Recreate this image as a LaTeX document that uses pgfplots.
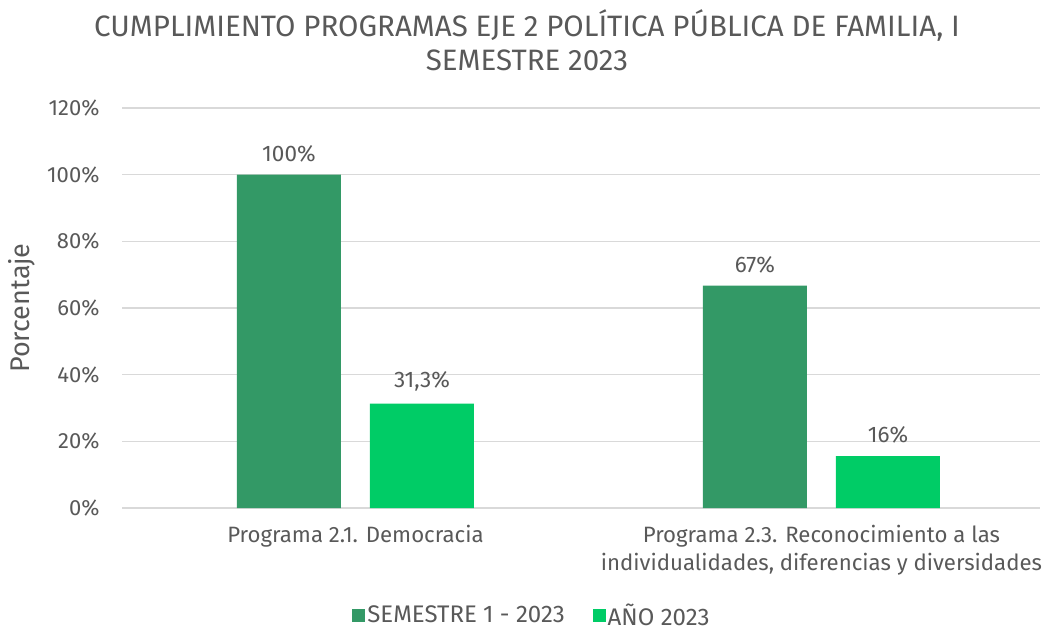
\documentclass[border=0pt]{standalone}
\usepackage{fontspec}
\setmainfont{Fira Sans}
\usepackage{pgfplots}
\pgfplotsset{compat=1.18}
\definecolor{dg}{HTML}{339966}
\definecolor{lg}{HTML}{00CC66}
\definecolor{tx}{HTML}{595959}
\definecolor{gr}{HTML}{D9D9D9}
\begin{document}
\begin{tikzpicture}[x=1pt,y=1pt]
\begin{axis}[
  at={(122pt,-508pt)}, anchor=south west, scale only axis,
  width=918pt, height=400pt,
  xmin=-0.501, xmax=1.469, ymin=0, ymax=120,
  ybar, bar width=104pt,
  ytick={0,20,...,120},
  yticklabels={0\%,20\%,40\%,60\%,80\%,100\%,120\%},
  xtick={0,1},
  xticklabels={Programa 2.1. Democracia, {Programa 2.3. Reconocimiento a las\\individualidades, diferencias y diversidades}},
  xticklabel style={align=center, font=\fontsize{22.2}{27.5}\selectfont, text=tx, anchor=north, yshift=-14pt},
  yticklabel style={font=\fontsize{22}{26}\selectfont, text=tx, xshift=-19pt},
  major tick length=0pt,
  axis line style={draw=none},
  ymajorgrids, grid style={gr, line width=1.3pt},
  ylabel={Porcentaje},
  ylabel style={at={(axis description cs:-0.109,0.5)}, anchor=center, font=\fontsize{27}{30}\selectfont, text=tx},
  nodes near coords, point meta=explicit symbolic,
  every node near coord/.append style={font=\fontsize{22.5}{26}\selectfont, text=tx, yshift=9pt},
  legend style={at={(0.4466,-0.268)}, anchor=center, legend columns=2, draw=none, font=\fontsize{24}{28}\selectfont, text=tx,
    /tikz/every even column/.append style={column sep=26pt}},
  legend image code/.code={\fill[#1] (0pt,-6.5pt) rectangle (13pt,6.5pt);},
]
\addplot[fill=dg, draw=none, bar shift=-66.5pt] coordinates {(0,100) [100\%] (1,66.7) [67\%]};
\addplot[fill=lg, draw=none, bar shift=66.5pt] coordinates {(0,31.3) [{31,3\%}] (1,15.6) [16\%]};
\legend{SEMESTRE 1 - 2023, AÑO 2023}
\end{axis}
\node[align=center, text=tx, font=\fontsize{29.5}{34}\selectfont, anchor=north] at (527pt,-6pt)
  {CUMPLIMIENTO PROGRAMAS EJE 2 POLÍTICA PÚBLICA DE FAMILIA, I\\SEMESTRE 2023};
\pgfresetboundingbox
\path[use as bounding box] (0pt,0pt) rectangle (1042pt,-631pt);
\end{tikzpicture}
\end{document}
